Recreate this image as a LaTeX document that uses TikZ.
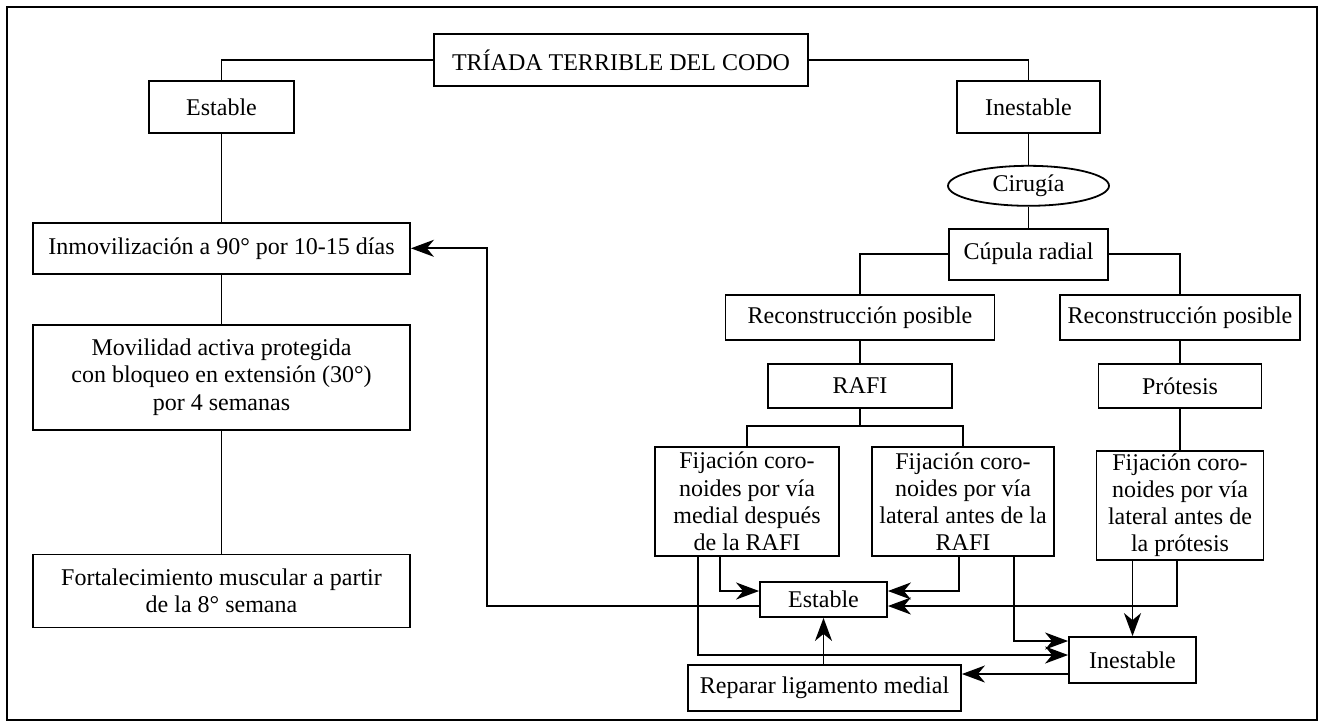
\documentclass[tikz,border=0pt]{standalone}
\usepackage{fontspec}
\setmainfont{Liberation Serif}
\usetikzlibrary{calc}
\usetikzlibrary{graphs}
\usetikzlibrary{shapes}
\usetikzlibrary{positioning}
\usetikzlibrary{arrows.meta}

\begin{document}
\begin{tikzpicture}[x=0.5pt, y=-0.5pt, line width=0.9pt,
        every node/.style={draw, inner sep=1pt, align=center, font=\fontsize{12}{13.6}\selectfont},
        >={Stealth[length=11.5pt, width=8.5pt, inset=3.5pt]}]
        \useasboundingbox (0,0) rectangle (1321,725);
        \draw (7,7) rectangle (1317,720);

        \node[minimum width=187pt, minimum height=26pt] (triada) at (621,60) {TRÍADA TERRIBLE DEL CODO};

        % rama estable
        \node[minimum width=72.5pt, minimum height=26pt] (estable) at (221.5,107) {Estable};
        \node[below=44pt of estable, minimum width=188.5pt, minimum height=25.5pt] (inmov) {Inmovilización a 90° por 10-15 días};
        \node[below=24.5pt of inmov, minimum width=188.5pt, minimum height=52.5pt] (movil) {Movilidad activa protegida\\con bloqueo en extensión (30°)\\por 4 semanas};
        \node[below=61.5pt of movil, minimum width=188.5pt, minimum height=36.5pt] (fortal) {Fortalecimiento muscular a partir\\de la 8° semana};

        % rama inestable
        \node[minimum width=71.5pt, minimum height=26pt] (inestable) at (1028.5,107) {Inestable};
        \node[ellipse, below=15.5pt of inestable, minimum width=80.5pt, minimum height=20pt, inner sep=0pt] (cirugia) {Cirugía};
        \node[below=10.5pt of cirugia, minimum width=79.5pt, minimum height=25.5pt] (cupula) {Cúpula radial};

        \node[minimum width=134.5pt, minimum height=22.5pt] (reconA) at (860,317.5) {Reconstrucción posible};
        \node[minimum width=120pt, minimum height=22.5pt] (reconB) at (1180,317.5) {Reconstrucción posible};
        \node[below=11pt of reconA, minimum width=92pt, minimum height=22pt] (rafi) {RAFI};
        \node[below=11pt of reconB, minimum width=81.5pt, minimum height=22pt] (protesis) {Prótesis};

        \node[minimum width=92pt, minimum height=54.5pt] (fijaA) at (747,501.5) {Fijación coro-\\noides por vía\\medial después\\de la RAFI};
        \node[minimum width=91pt, minimum height=54.5pt] (fijaB) at (963,501.5) {Fijación coro-\\noides por vía\\lateral antes de la\\RAFI};
        \node[below=20.5pt of protesis, minimum width=83.5pt, minimum height=54.5pt] (fijaC) {Fijación coro-\\noides por vía\\lateral antes de\\la prótesis};

        \node[minimum width=63.5pt, minimum height=17.5pt] (estable2) at (823.5,599.5) {Estable};
        \node[minimum width=63.5pt, minimum height=23pt] (inestable2) at (1132.5,660) {Inestable};
        \node[minimum width=136.5pt, minimum height=23pt] (reparar) at (824.5,688) {Reparar ligamento medial};

        \graph { [edges={draw}]
            (estable) -- (inmov) -- (movil) -- (fortal),
            (inestable) -- (cirugia) -- (cupula),
            (reconA) -- (rafi),
            (reconB) -- (protesis) -- (fijaC),
        };

        \draw (triada.west) -| (estable.north);
        \draw (triada.east) -| (inestable.north);
        \draw (cupula.west) -| (reconA.north);
        \draw (cupula.east) -| (reconB.north);
        \draw (rafi.south) -- ++(0,17) coordinate (rafi port);
        \draw (fijaA.north) |- (rafi port) -| (fijaB.north);

        % resultados
        \draw[->] ($(fijaA.south)+(-27,0)$) |- ($(estable2.west)+(0,-8.5)$);
        \draw[->] ($(fijaB.south)+(-4,0)$) |- ($(estable2.east)+(0,-8.5)$);
        \draw[->] ($(fijaC.south)+(-3,0)$) |- ($(estable2.east)+(0,6.5)$);
        \draw[->] ($(estable2.west)+(0,6.5)$) -| ($(inmov.east)+(76,0)$) -- (inmov.east);
        \draw[->] ($(fijaA.south)+(-49,0)$) |- ($(inestable2.west)+(0,-5)$);
        \draw[->] ($(fijaB.south)+(51,0)$) |- ($(inestable2.west)+(0,-19)$);
        \draw[->] (fijaC.south -| inestable2.north) -- (inestable2.north);
        \draw[->] ($(inestable2.west)+(0,14)$) -- ($(reparar.east)+(0,-14)$);
        \draw[->] (reparar.north -| estable2.south) -- (estable2.south);
    \end{tikzpicture}
\end{document}
